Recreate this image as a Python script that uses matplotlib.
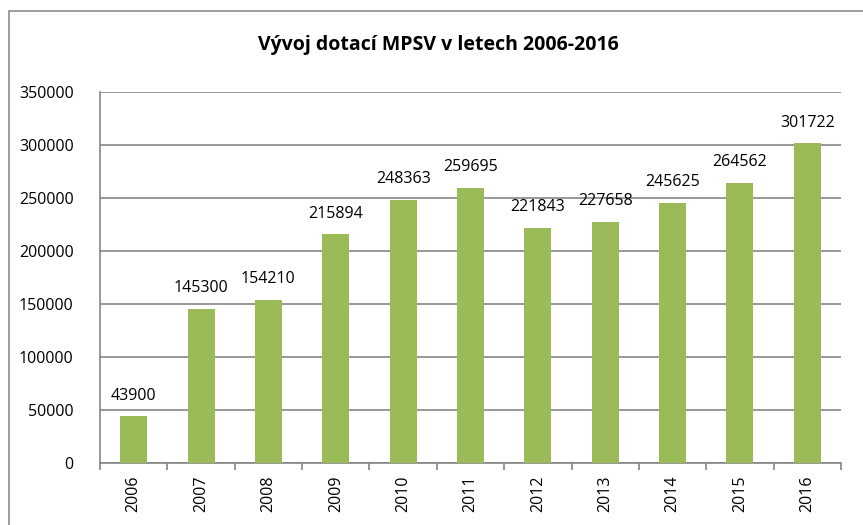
import matplotlib.pyplot as plt
from matplotlib.patches import Rectangle

years = ["2006", "2007", "2008", "2009", "2010", "2011",
         "2012", "2013", "2014", "2015", "2016"]
values = [43900, 145300, 154210, 215894, 248363, 259695,
          221843, 227658, 245625, 264562, 301722]
y_ticks = [0, 50000, 100000, 150000, 200000, 250000, 300000, 350000]

plt.rcParams["font.family"] = ["Open Sans", "DejaVu Sans"]

fig = plt.figure(figsize=(8.63, 5.25), dpi=100)
W, H = 863, 525
ax = fig.add_axes([100 / W, 1 - 463 / H, (841 - 100) / W, (463 - 92) / H])

# chart frame (cut off at right and bottom like the reference)
fig.patches.append(Rectangle((8.5 / W, -0.05), 1.1, 1 - 11 / H + 0.05,
                             transform=fig.transFigure, fill=False,
                             edgecolor="#8c8c8c", linewidth=1.2))

x = list(range(len(years)))
ax.bar(x, values, width=0.4, color="#9bbb59", zorder=3)
for xi, v in zip(x, values):
    ax.annotate(str(v), (xi, v), xytext=(0, 9), textcoords="offset points",
                ha="center", va="bottom", fontsize=11.5, color="black")

ax.set_xlim(-0.5, len(years) - 0.5)
ax.set_ylim(0, 350000)
ax.set_yticks(y_ticks)
ax.set_yticklabels([str(t) for t in y_ticks], fontsize=11.5)
ax.yaxis.grid(True, color="#868686", linewidth=1.2, zorder=0)
ax.tick_params(axis="y", length=0, pad=19)

ax.set_xticks(x)
ax.set_xticklabels(years, rotation=90, fontsize=11.5)
ax.set_xticks([i - 0.5 for i in range(len(years) + 1)], minor=True)
ax.tick_params(axis="x", which="major", length=0, pad=9)
ax.tick_params(axis="x", which="minor", length=5, color="#868686", width=1.2)

for side in ["top", "right"]:
    ax.spines[side].set_visible(False)
for side in ["left", "bottom"]:
    ax.spines[side].set_color("#868686")
    ax.spines[side].set_linewidth(1.2)

fig.text(438 / W, 1 - 45 / H, "Vývoj dotací MPSV v letech 2006-2016",
         ha="center", va="center", fontsize=14, fontweight="bold")

fig.savefig("out.png", dpi=100)
